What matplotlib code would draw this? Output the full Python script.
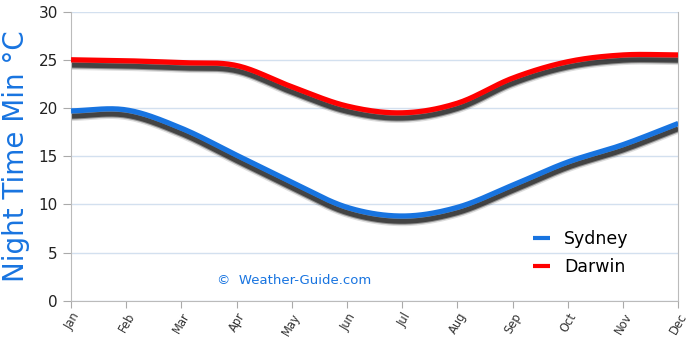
import numpy as np
import matplotlib.pyplot as plt

# monthly night time minimum temperatures
months = ['Jan', 'Feb', 'Mar', 'Apr', 'May', 'Jun', 'Jul', 'Aug', 'Sep', 'Oct', 'Nov', 'Dec']
sydney = [19.7, 19.8, 17.9, 15.1, 12.3, 9.7, 8.8, 9.7, 12.0, 14.4, 16.2, 18.4]
darwin = [25.0, 24.9, 24.7, 24.4, 22.2, 20.2, 19.5, 20.5, 23.1, 24.8, 25.5, 25.5]


def smooth(y, n=20):
    # cubic hermite curve through the monthly points
    y = np.asarray(y, dtype=float)
    x = np.arange(len(y))
    m = np.gradient(y)
    xs, ys = [], []
    for i in range(len(y) - 1):
        t = np.linspace(0, 1, n, endpoint=False)
        h00 = 2 * t**3 - 3 * t**2 + 1
        h10 = t**3 - 2 * t**2 + t
        h01 = -2 * t**3 + 3 * t**2
        h11 = t**3 - t**2
        xs.append(x[i] + t)
        ys.append(h00 * y[i] + h10 * m[i] + h01 * y[i + 1] + h11 * m[i + 1])
    xs.append([x[-1]])
    ys.append([y[-1]])
    return np.concatenate(xs), np.concatenate(ys)


fig = plt.figure(figsize=(6.9, 3.4), dpi=100)
ax = fig.add_axes([0.103, 0.115, 0.88, 0.851])

for vals, col, name in [(sydney, '#1874e0', 'Sydney'), (darwin, '#ff0000', 'Darwin')]:
    xs, ys = smooth(vals)
    # soft drop shadow under each line
    for lw, a in [(7, 0.15), (5, 0.4), (3.5, 0.7)]:
        ax.plot(xs, ys - 0.55, color='#222222', lw=lw, alpha=a, solid_capstyle='butt', zorder=2)
    ax.plot(xs, ys, color=col, lw=3.8, solid_capstyle='butt', zorder=3, label=name)

ax.set_xlim(0, 11)
ax.set_ylim(0, 30)
ax.set_yticks(range(0, 31, 5))
ax.set_xticks(range(12))
ax.set_xticklabels(months, rotation=60, ha='right', rotation_mode='anchor', fontsize=8.3)
ax.tick_params(axis='y', labelsize=11, colors='#aaaaaa', labelcolor='#222222', length=6)
ax.tick_params(axis='x', colors='#aaaaaa', labelcolor='#333333', length=5, pad=2)
ax.grid(axis='y', color='#d3e0ef', lw=1)
ax.set_axisbelow(True)
for s in ['left', 'bottom', 'right']:
    ax.spines[s].set_color('#bbbbbb')
ax.spines['top'].set_visible(False)

ax.set_ylabel('Night Time Min °C', color='#1874e0', fontsize=20, labelpad=6)

leg = ax.legend(loc='center left', bbox_to_anchor=(0.735, 0.165), frameon=False,
                fontsize=12.5, handlelength=1.0, handletextpad=0.8, labelspacing=0.55)
for h in leg.get_lines():
    h.set_linewidth(3)

ax.text(0.24, 0.07, '©  Weather-Guide.com', transform=ax.transAxes, color='#1874e0',
        fontsize=9.5, va='center')

fig.savefig('out.png', dpi=100)
